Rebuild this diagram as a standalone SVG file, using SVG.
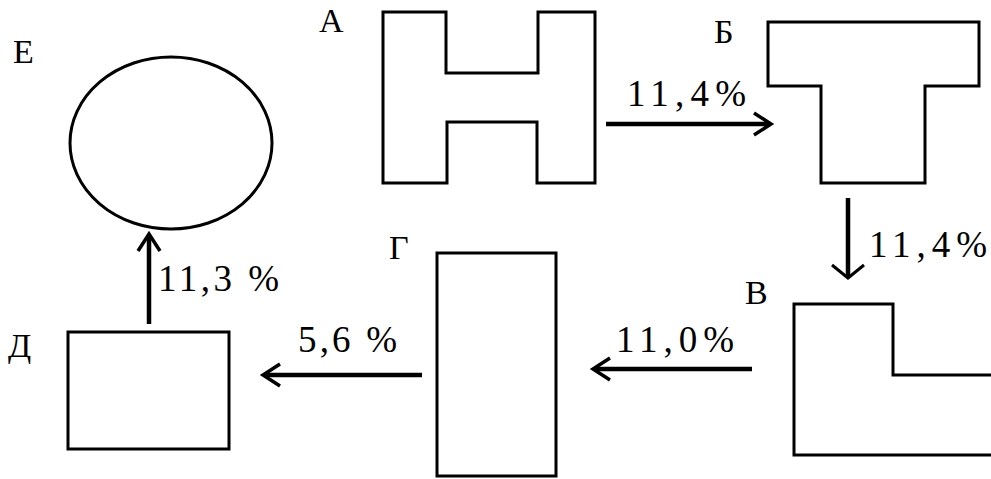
<svg xmlns="http://www.w3.org/2000/svg" width="991" height="479" viewBox="0 0 991 479">
<style>
.shape{fill:none;stroke:#000;stroke-width:3;stroke-linejoin:miter}
.lbl{font-family:"Liberation Serif","Times New Roman",serif;font-size:34px;fill:#000}
.pct{font-family:"Liberation Serif","Times New Roman",serif;font-size:37px;fill:#000}
.conn{fill:none;stroke:#000;stroke-width:4.5;stroke-linecap:butt}
</style>
<defs>
<marker id="arr" markerUnits="userSpaceOnUse" markerWidth="40" markerHeight="40" viewBox="-25 -20 40 40" refX="0" refY="0" orient="auto">
<path d="M-16,-11 L1,0 L-16,11" fill="none" stroke="#000" stroke-width="3.5"/>
</marker>
<marker id="arrw" markerUnits="userSpaceOnUse" markerWidth="40" markerHeight="40" viewBox="-25 -20 40 40" refX="0" refY="0" orient="auto">
<path d="M-12,-16 L1,0 L-12,16" fill="none" stroke="#000" stroke-width="3"/>
</marker>
</defs>
<rect width="991" height="479" fill="#fff"/>

<g id="node-E">
<ellipse class="shape" cx="171" cy="143" rx="101" ry="86" stroke-width="2.5"/>
<text class="lbl" x="13" y="63">Е</text>
</g>
<g id="node-A">
<path class="shape" d="M383,12 H446 V73 H538 V12 H595 V183 H537 V122 H447 V183 H383 Z"/>
<text class="lbl" x="319" y="32">А</text>
</g>
<g id="node-B">
<path class="shape" d="M768,22 H979 V86 H925 V183 H821 V86 H768 Z"/>
<text class="lbl" x="714" y="43">Б</text>
</g>
<g id="node-V">
<path class="shape" d="M995,455 H794 V304 H893 V375 H995"/>
<text class="lbl" x="745" y="304">В</text>
</g>
<g id="node-G">
<rect class="shape" x="437" y="253" width="119" height="223"/>
<text class="lbl" x="389" y="259">Г</text>
</g>
<g id="node-D">
<rect class="shape" x="68" y="332" width="161" height="117"/>
<text class="lbl" x="8" y="357">Д</text>
</g>

<g id="connectors">
<line class="conn" x1="606" y1="124" x2="770" y2="124" marker-end="url(#arr)"/>
<line class="conn" x1="848" y1="198" x2="848" y2="277" stroke-width="3" marker-end="url(#arrw)"/>
<line class="conn" x1="752" y1="369" x2="594" y2="369" marker-end="url(#arr)"/>
<line class="conn" x1="422" y1="375" x2="264" y2="375" marker-end="url(#arr)"/>
<line class="conn" x1="149" y1="324" x2="149" y2="235" marker-end="url(#arr)"/>
<text class="pct" x="627" y="106" textLength="119" lengthAdjust="spacing">11,4%</text>
<text class="pct" x="869" y="257" textLength="118" lengthAdjust="spacing">11,4%</text>
<text class="pct" x="616" y="352" textLength="118" lengthAdjust="spacing">11,0%</text>
<text class="pct" x="298" y="352" textLength="99" lengthAdjust="spacing">5,6 %</text>
<text class="pct" x="158" y="291" textLength="121" lengthAdjust="spacing">11,3 %</text>
</g>
</svg>
